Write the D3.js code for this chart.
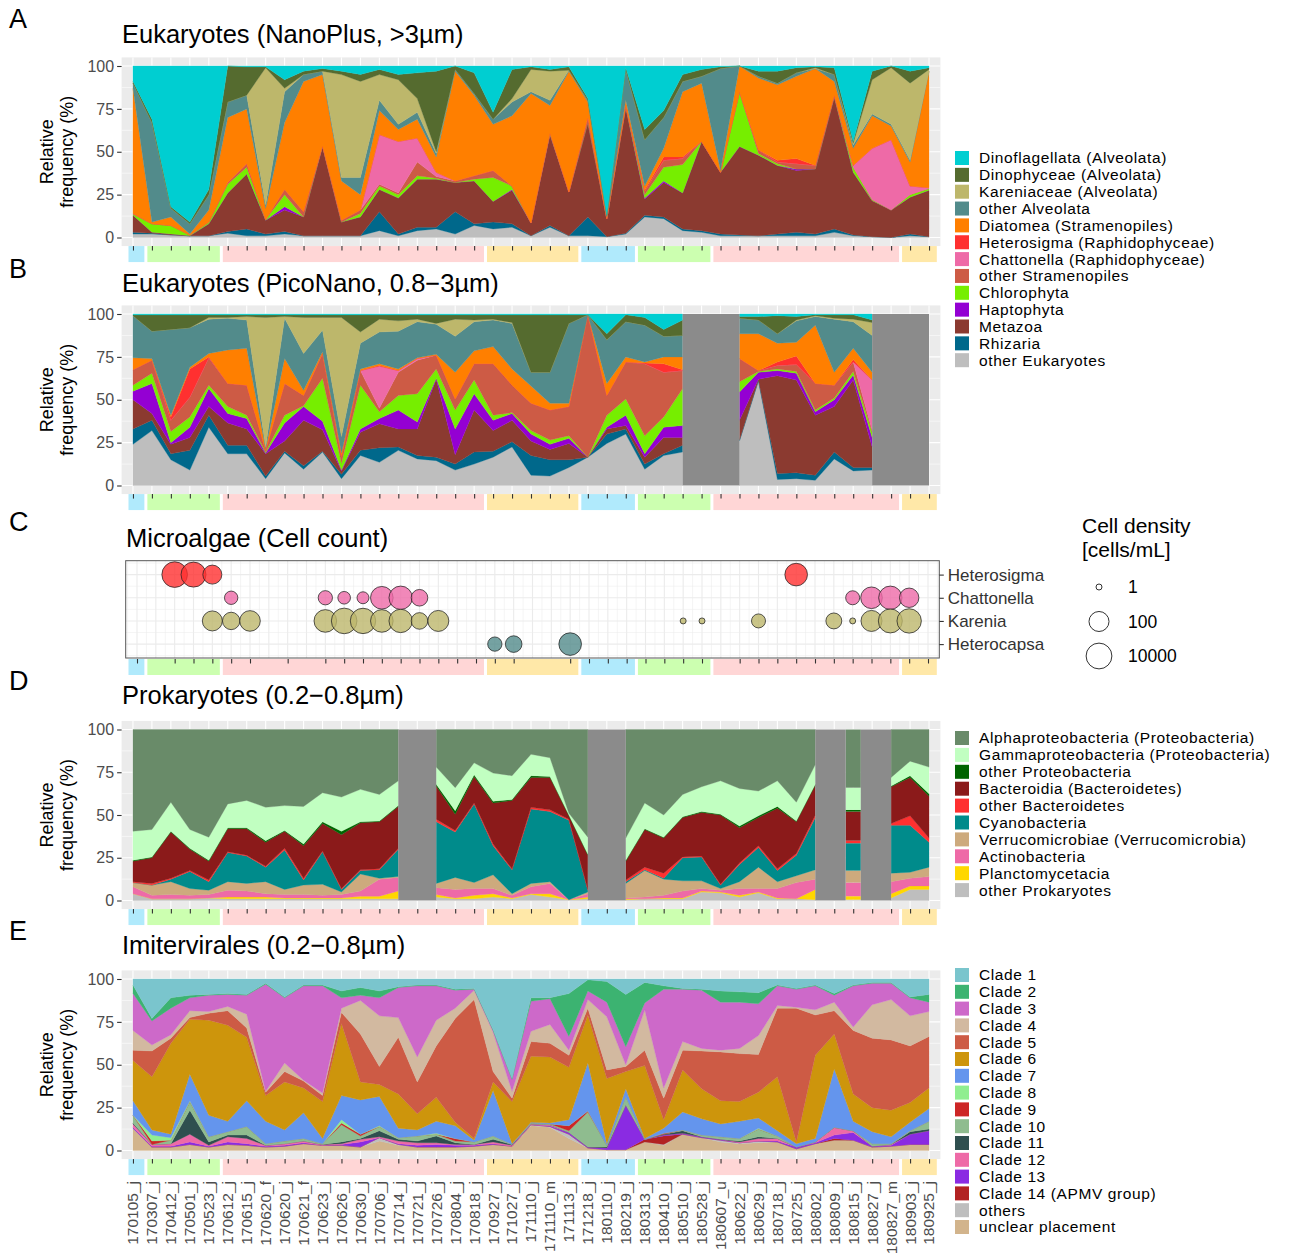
<!DOCTYPE html>
<html>
<head>
<meta charset="utf-8">
<script src="https://cdn.jsdelivr.net/npm/d3@7"></script>
<style>
  body { margin: 0; background: #fff; }
  text { font-family: "Liberation Sans", Arial, Helvetica, sans-serif; }
</style>
</head>
<body>
<svg id="chart" width="1311" height="1253"></svg>
<script>
// ---- samples and seasons ----
var samples = ["170105_j","170307_j","170412_j","170501_j","170523_j","170612_j","170615_j","170620_f","170620_j","170621_f",
  "170623_j","170626_j","170630_j","170706_j","170714_j","170721_j","170726_j","170804_j","170818_j","170927_j",
  "171027_j","171110_j","171110_m","171113_j","171218_j","180110_j","180219_j","180313_j","180410_j","180510_j",
  "180528_j","180607_u","180622_j","180629_j","180718_j","180725_j","180802_j","180809_j","180815_j","180827_j",
  "180827_m","180903_j","180925_j"];
var seasons = ["winter","spring","spring","spring","spring",
  "summer","summer","summer","summer","summer","summer","summer","summer","summer","summer","summer","summer","summer","summer",
  "autumn","autumn","autumn","autumn","autumn",
  "winter","winter","winter",
  "spring","spring","spring","spring",
  "summer","summer","summer","summer","summer","summer","summer","summer","summer","summer",
  "autumn","autumn"];

// ---- A: Eukaryotes NanoPlus (>3um), legend order (top of stack first) ----
var eukTaxa = ["Dinoflagellata (Alveolata)","Dinophyceae (Alveolata)","Kareniaceae (Alveolata)","other Alveolata",
  "Diatomea (Stramenopiles)","Heterosigma (Raphidophyceae)","Chattonella (Raphidophyceae)","other Stramenopiles",
  "Chlorophyta","Haptophyta","Metazoa","Rhizaria","other Eukaryotes"];
var nano_dinoflagellata = [9,31,82,91,72, 0,0.5,0.5,8,3, 1.5,3,5,2,5, 4,3,0,4,27, 2,0.5,2,0.5,19, 87,1,37,26,5, 2,0.5,0,3,3, 1,0.5,1,44,3, 0,3,1];
var nano_dinophyceae = [1,2,1,1,3, 21,16.5,0.5,5,2, 1.5,2,4,3,3, 15,47,2,12,4, 17,1.5,1,2,1, 0,1,6,4,4, 4,1,0,3,7, 3,0.5,4,1,5, 1,7,1];
var nano_kareniaceae = [0,0,0,0,0, 0,0,80,2,0, 0,60,56,15,26, 8,1,0,0,0, 2,13,17,0,0, 0,0,0,0,0, 0,0,0,0,0, 0,0.5,0,1,20, 33,45,1];
var nano_otherAlveolata = [3,58,5,6,9, 9,8,2,18,4, 2,2,10,6,3, 4,2,1,1,3, 8,1,3,0.5,1, 1,18,27,18,6, 4,59.5,0,1,1, 2,0,4,2,1, 1,1,0];
var nano_diatomea = [73,1,5,0.5,7, 38,32,6.5,39,76, 41.5,23,9,14,7, 11,9,64,47,27, 41,75.5,16,70.5,9, 1,3,2.5,5,38, 34,1,15,42,44, 48,56.5,8,10,19, 8,14,68];
var nano_heterosigma = [0,0,0,0,0, 0,0,0,0,0, 0,0,0,0,0, 0,0,0,0,0, 0,0,0,0,0, 0,0,0.5,2,1, 0,0,0,0,1, 3,0,0,0,0, 0,0,0];
var nano_chattonella = [0,0,0,0,0, 0,0,0,0,0, 0,0,0,29,30, 14,2.5,0,0,0, 0,0,0,0,0, 0,0,0,0,0, 0,0,0,0,0, 0,0,0,1,30, 41,5,0.5];
var nano_otherStramenopiles = [0.5,0,0,0,0, 1,2,0,3,3, 0,1,2,1,1, 8,1,1,2,4, 0,0,0,0,3, 0,1,2,4,3.5, 0,0,0,2,1, 3,2,1,0,0, 0,0,0];
var nano_chlorophyta = [0.5,5,5,0.5,1, 5,4,0.5,7,0, 0.5,0,2,2,2, 2,0.5,0,1,14, 2,0,1,0,0, 0,0,2,8,16.5, 0,0,32,1,1, 0,0,0,3,0.5, 0,1.5,1];
var nano_haptophyta = [0,0,0,0,0, 0,0,0,2,0, 0,0,0,0,0, 0,0,0,0,0, 0.5,0,0,0,0, 0,0,0.5,1,0, 0,0,0,0,0, 1,0,0,0,0, 0,0,0];
var nano_metazoa = [10,0.5,0.5,0,7, 22.5,32,8,12.5,11, 52,8,11,13,21, 28,28,17,25,12, 19.5,7.5,53,25.5,55, 10.5,73.5,9.5,20,21, 52,36,51.5,47,40, 36,38,77,36.5,21, 16,21.5,27];
var nano_rhizaria = [1,0.5,0,0,0, 1,4,1,1.5,0, 0,0,0,11,1, 2,1,13,1,4, 2,0,1,0,11, 0,0.5,1,1,1, 1,1,0.5,0,1, 2,1,2,0.5,0, 0,1,0];
var nano_otherEukaryotes = [2,2,1.5,1,1, 2.5,1,1,2,1, 1,1,1,4,1, 4,5,2,7,5, 6,1,6,1,1, 0.5,2,12,11,4, 3,1,1,1,1, 1,1,3,1,0.5, 0,1,0.5];

// ---- B: Eukaryotes PicoNano (0.8-3um), null = not sequenced ----
var pico_dinoflagellata = [0.5,0.5,0.5,0.5,0.5, 0.5,0.5,0.5,0.5,0.5, 0.5,0.5,0.5,0.5,0.5, 0.5,0.5,0.5,0.5,0.5, 0.5,0.5,0.5,0.5,0.5, 11.5,0.5,2,9,3.5, null,null,1.5,1.5,1, 1.5,0.5,0.5,0.5,3.5, null,null,null];
var pico_dinophyceae = [0.5,9.5,8.5,7.5,1.5, 1.5,1,1.5,1,1.5, 1.5,1.5,10,2.5,3.5, 2.5,5,2.5,3,2.5, 4.5,33.5,33.5,5,0, 3.5,4,4.5,4,9, null,null,1,2,10.5, 2,0.5,2,2.5,1.5, null,null,null];
var pico_kareniaceae = [0,0,0,0,1, 0.5,2,75.5,1,21, 7.5,69.5,6.5,7.5,6, 1.5,0.5,10,1,0.5, 0.5,0,0,0,0, 0,0,0,0,0, null,null,0,0,0, 0.5,0.5,0.5,1.5,7.5, null,null,null];
var pico_otherAlveolata = [24.5,16,50,23,20, 18.5,16.5,1,23.5,21.5, 12.5,9.5,15,18.5,22, 21,17.5,21,17,15.5, 26.5,8,18,46.5,0, 25.5,20.5,21.5,12,12.5, null,null,9,8,5.5, 12.5,5,31,15.5,21.5, null,null,null];
var pico_diatomea = [7,1,1,1,2, 19.5,21.5,1,14.5,3, 1,2,1,1,1, 0.5,0.5,15.5,7.5,10, 9.5,10,4,2,0, 7,3,0.5,4,7.5, null,null,14.5,21.5,11, 8,34,7.5,6.5,4.5, null,null,null];
var pico_heterosigma = [0,0,2,16.5,0.5, 0,0,0,0,0, 0,0,0,0.5,0, 0,0,0,0,0, 0,0,0,0,0, 0,0,0.5,5,0.5, null,null,0,0,2, 5,0,0,1.5,0, null,null,null];
var pico_chattonella = [0,0,0,0,0, 0,0,0,0,0, 0,0,0,24.5,1, 1,0,0,0,0, 0,0,0,0,0, 0,0,0,0,0, null,null,0,0,0, 0,0,0,0,29.5, null,null,null];
var pico_otherStramenopiles = [9,7.5,6.5,11.5,16, 13.5,17.5,1,18.5,6, 14.5,4,8.5,2,13.5, 19.5,8,6.5,9.5,30, 16,16,17.5,17,83, 11.5,21.5,42,26,10.5, null,null,13.5,0.5,2, 4,15.5,7.5,5.5,1, null,null,null];
var pico_chlorophyta = [3.5,6,6.5,6,2, 4,2,0.5,4.5,0.5, 25,4,25.5,4,8.5, 16.5,5.5,11,8,3, 0.5,2,2.5,1.5,0, 7,9.5,10.5,6,21.5, null,null,6,0.5,1, 1,1,1,2,3, null,null,null];
var pico_haptophyta = [5,17.5,1,6,10.5, 5.5,6,0.5,10.5,8, 5,0.5,2,3,11, 4,0.5,15,9.5,6, 4,4,3,3,0, 1,6,2,6,7, null,null,16.5,4,3, 4,2,4,3,5.5, null,null,null];
var pico_metazoa = [17,4,5.5,7.5,5, 13,9.5,13,6,26.5, 12.5,2,10.5,14,10.5, 15.5,45.5,5.5,24.5,12, 12.5,8.5,6,9.5,0, 3,2,4,9.5,4.5, null,null,11.5,0.5,57, 54,35,26.5,51,12, null,null,null];
var pico_rhizaria = [9,6,3.5,11.5,7, 5,5,1.5,1,2, 0.5,2.5,3,8.5,2, 2,2,3.5,7,3.5, 3,11.5,9.5,4.5,0, 5.5,3,3,1,4, null,null,0.5,0.5,3.5, 3.5,3,4,2,1.5, null,null,null];
var pico_otherEukaryotes = [24,32,15,9,34, 18.5,18.5,4,19,9.5, 19.5,4,17.5,13.5,20.5, 15.5,14.5,9,12.5,16.5, 22.5,6,5.5,10.5,16.5, 24.5,30,9.5,17.5,19.5, null,null,26,61,3.5, 4,3,15.5,8.5,9, null,null,null];

// ---- C: Microalgae cell counts (cells/mL), null = not counted ----
var algaeTaxa = ["Heterosigma","Chattonella","Karenia","Heterocapsa"];
var count_heterosigma = [0,null,8300,4800,53, 0,0,null,0,null, 0,0,0,0,0, 0,0,0,0,0, 0,null,null,0,0, 0,0,0,0,0, 0,null,0,0,0, 650,0,0,0,0, 0,0,0];
var count_chattonella = [0,null,0,0,0, 3.6,0,null,0,null, 5,2.8,2.3,650,1200, 14,0,0,0,0, 0,null,null,0,0, 0,0,0,0,0, 0,null,0,0,0, 0,0,0,4.5,300, 1200,68,0];
var count_karenia = [0,null,0,0,100, 21,150,null,0,null, 650,8300,6900,650,1200, 14,200,0,0,0, 0,null,null,0,0, 0,0,0,0,1, 1,null,0,4.5,0, 0,0,10,1,200, 2000,2800,0];
var count_heterocapsa = [0,null,0,0,0, 0,0,null,0,null, 0,0,0,0,0, 0,0,0,0,5, 14,null,null,650,0, 0,0,0,0,0, 0,null,0,0,0, 0,0,0,0,0, 0,0,0];
var densityLegend = [1, 100, 10000];

// ---- D: Prokaryotes (0.2-0.8um) ----
var proTaxa = ["Alphaproteobacteria (Proteobacteria)","Gammaproteobacteria (Proteobacteria)","other Proteobacteria",
  "Bacteroidia (Bacteroidetes)","other Bacteroidetes","Cyanobacteria","Verrucomicrobiae (Verrucomicrobia)",
  "Actinobacteria","Planctomycetacia","other Prokaryotes"];
var pro_alpha = [59.5,58.5,42.5,58.5,63, 43.5,41.5,45.5,44.5,45, 37,39.5,35,38,30, null,22,34,19.5,25.5, 27,14.5,16.5,49,63, null,63.5,43,50,38, 33.5,30,34.5,36,30, 42.5,20.5,null,34,null, 28,18.5,22];
var pro_gamma = [17,16,17,11,13.5, 14,16,19.5,14.5,22, 17,20,19,15.5,14.5, null,10,13.5,7,16.5, 14,12.5,11,1,10, null,13,15,13,13, 14.5,19.5,22,14.5,15, 11,11.5,null,13,null, 5,8.5,15.5];
var pro_otherProteo = [0.5,0.5,0.5,0.5,0.5, 0.5,0.5,1,0.5,1, 1,2,0.5,0.5,0.5, null,1,2,1,1, 0.5,1,0.5,0.5,0.5, null,0.5,0.5,0.5,0.5, 0.5,0.5,1,1,1, 0.5,0.5,null,1,null, 0.5,1,1.5];
var pro_bacteroidia = [12,15,27,12.5,11, 13.5,15.5,14,10,19, 16,31.5,27.5,27.5,24.5, null,19.5,9.5,15.5,24, 40,17.5,19,2,20, null,11,22,20.5,23, 25.5,40.5,20.5,16.5,35.5, 18.5,17.5,null,17,null, 21.5,22.5,24.5];
var pro_otherBacteroidetes = [0.5,1,0.5,0.5,1, 0.5,0.5,0.5,1,1, 0.5,0.5,0.5,0.5,0.5, null,1.5,1,0.5,1, 0.5,1,1,0.5,0.5, null,1,1.5,3,0.5, 0.5,0.5,1,1,1, 1,1.5,null,1.5,null, 1,5.5,2.5];
var pro_cyano = [0,0,1.5,10,5, 17,16,8.5,23,3, 19,1.5,2,5,16, null,36,26.5,46,17, 14,43.5,41,46.5,1, null,1,0.5,0.5,13.5, 14,2,10,11.5,6.5, 12,30.5,null,16,null, 28,27.5,14.5];
var pro_verruco = [2.5,6,7.5,4,2.5, 5,4.5,7,3,5.5, 6.5,1.5,10,0.5,0.5, null,2.5,7,3.5,8, 1,2,1,0,1, null,8.5,15.5,9.5,6, 4.5,1,4,12.5,4, 4,5.5,null,7,null, 5,3.5,5.5];
var pro_actino = [4,2,2.5,2,2, 4,3.5,2,2,2, 1.5,2,3,10,8, null,4,5,4,3, 1.5,4,6,0,2, null,0.5,1,1.5,4, 1.5,1,4,2,5.5, 9.5,6,null,8,null, 7,4.5,5.5];
var pro_plancto = [0,0,0,0,0, 1,1,1,0.5,0.5, 0.5,0.5,1.5,1.5,4.5, null,1.5,0.5,2,2, 0.5,0.5,2,0,1, null,0.5,0,0.5,0.5, 0.5,0.5,1,0.5,0.5, 0,6,null,2,null, 2.5,2,2];
var pro_other = [4,1,1,1,1.5, 1,1,1,1,1, 1,1,1,1,1, null,2,1,1,2, 1,3.5,2,0.5,1, null,0.5,1,1,1, 5,4.5,2,4.5,1, 1,0.5,null,0.5,null, 1.5,6.5,6.5];

// ---- E: Imitervirales (0.2-0.8um) ----
var virTaxa = ["Clade 1","Clade 2","Clade 3","Clade 4","Clade 5","Clade 6","Clade 7","Clade 8","Clade 9","Clade 10",
  "Clade 11","Clade 12","Clade 13","Clade 14 (APMV group)","others","unclear placement"];
var vir_c1 = [3.5,23,11,9.5,9, 8.5,9,2.5,10.5,3.5, 3.5,7,5,7,4.5, 3.5,3.5,6,5.5,29.5, 58,11,11,8.5,0.5, 1.5,9,2,4,5.5, 6,7,7.5,8,3.5, 5.5,3.5,8.5,3.5,2, 2,10.5,9];
var vir_c2 = [5,1.5,6,1.5,0.5, 0.5,0.5,0.5,0.5,0.5, 0.5,4,4.5,4,0.5, 0.5,0.5,0.5,0.5,0.5, 0.5,2,0.5,25,6.5, 12,30.5,12,2,0.5, 0.5,6.5,6,6.5,0.5, 0.5,0.5,1,0.5,0.5, 0.5,0.5,4.5];
var vir_c3 = [21.5,14,15.5,7.5,9.5, 7,11,62.5,38,55, 62.5,6,3,10.5,17.5, 41.5,20,10.5,0.5,1, 7,17.5,15,8,5, 8.5,10.5,4,57.5,30.5, 34,28,27,18.5,11.5, 10.5,14,4,24,12.5, 9.5,10.5,5.5];
var vir_c4 = [11.5,3.5,2,4,1, 2.5,8,0.5,5,0.5, 1.5,2.5,19.5,29.5,11.5, 14.5,15,6,5.5,23, 4,6,11,3,5, 31,1,23.5,6,5, 1.5,1,3,11,1.5, 0.5,3,5,2,19.5, 23.5,17.5,14.5];
var vir_c5 = [6,15,3,1,4, 8.5,5.5,2,6,4, 3.5,6.5,28,10.5,33, 18.5,30,60.5,81,6, 2,8.5,8,7,4, 5,3,9,12.5,11.5, 22,28.5,28,22,40, 78,23.5,13.5,37,40.5, 41,33,30];
var vir_c6 = [23.5,31,53,32,55.5, 56,37,15,28,14.5, 21.5,42,10.5,7,20, 9.5,14,2,1,5, 24.5,38.5,38.5,30.5,28, 38,10,42.5,5,24.5, 17.5,13.5,11.5,15,31.5, 1,48.5,20.5,16,14, 15.5,11.5,12];
var vir_c7 = [8.5,3,2,15.5,12.5, 6,15,13,6.5,15, 3,14,20,17,5.5, 3.5,7,7.5,1,26.5, 0.5,0.5,0.5,3.5,28, 1,4.5,0.5,3,10.5, 9.5,7.5,10,6,3, 2,2,34,5.5,7, 4,5,7.5];
var vir_c8 = [0,3.5,1.5,0.5,0, 0,0,0,0,0, 0,2,0,0.5,0, 0,0.5,0,0,0, 0,0,0,0,0, 0,0,0,0,0, 0,0,0,0.5,0, 0,0,0,0,0, 0,0,0];
var vir_c9 = [0,2,0,0,0, 0,0,0,0,0, 0,1,1,0,0, 0,0,1.5,0,0, 0,0,0,3,0.5, 0,0,0,0.5,0, 0,0,0,0,0, 0,0,0,0,0, 0,0,0];
var vir_c10 = [4.5,0,2,5,3, 2,5,1,1.5,1.5, 0.5,10,1.5,2.5,1, 3,1,1,1.5,2, 0,0.5,0.5,1,20.5, 1,5,0,0,0.5, 1,1.5,1.5,4.5,1.5, 0,0,0,0,1.5, 0.5,0.5,4.5];
var vir_c11 = [0.5,0,0,14,2, 1,2,0,0,0, 0,1,0.5,3.5,1, 1,4,1,0,1.5, 0.5,0,0,0,0, 0.5,0,0,0.5,1.5, 0,0,0.5,1,0, 0,0,0,0,0, 0,1.5,1];
var vir_c12 = [2,1,1.5,4.5,0.5, 3,3,0.5,1,1, 0.5,0.5,1.5,0.5,1.5, 1.5,1,0.5,0.5,1, 0.5,0.5,0.5,0,0, 0,0,0,0,0, 0,0,0.5,1.5,1.5, 0,0.5,4.5,1,0, 0.5,0,0];
var vir_c13 = [0.5,0.5,0.5,1.5,0.5, 1.5,1,0.5,0.5,0.5, 0,0.5,3,0,0.5, 1,1.5,1,0.5,0.5, 0,0,0.5,1,0.5, 1,26,0,0.5,0.5, 0.5,0.5,0,0,0.5, 1,0.5,2,4.5,0.5, 0.5,6,8];
var vir_c14 = [0,0,0,0,0, 0,0,0,0,0, 0,0,0,0,0, 0,0,0,0,0, 0,0,0,0,0, 0,0,1.5,5,0, 0,0,0,0,0, 0,0,1,0,0, 0,0,0];
var vir_others = [0.5,0,0,0,0, 0,0,0,0,0, 0,0,0,2,0.5, 0,0,0,0,0, 0,0.5,0.5,2.5,0, 0,0,0,0.5,0, 0,1,0.5,1,0, 0,0,0,0,0, 0,0,0];
var vir_unclear = [12.5,2,2,3.5,2, 3.5,3,2,2.5,4, 3,3,2,5.5,3, 2,2,2,2.5,3.5, 2.5,14.5,13.5,7,1.5, 0.5,0.5,5,3,9.5, 7.5,5,4,4.5,5, 1,4,6,6,2, 2.5,3.5,3.5];

// ---- colours ----
var seasonColor = { winter: "#B0EAFC", spring: "#CCFFB0", summer: "#FFD6D6", autumn: "#FFE8A8" };
var eukColors = ["#00CED1","#556B2F","#BDB76B","#528B8B","#FF7F00","#FF3030","#EE6AA7","#CD5B45","#76EE00","#9400D3","#8B3A30","#00688B","#BEBEBE"];
var proColors = ["#698B69","#C1FFC1","#006400","#8B1A1A","#FF3030","#008B8B","#CDAA7D","#EE6AA7","#FFD700","#BEBEBE"];
var virColors = ["#7AC5CD","#3CB371","#CD69C9","#D2B9A0","#CD5B45","#CD950C","#6495ED","#90EE90","#CD2626","#8FBC8F","#2F4F4F","#EE6AA7","#8A2BE2","#B22222","#BEBEBE","#D2B48C"];
var algaeColors = ["#FF3030","#EE6AA7","#BDB76B","#528B8B"];

var svg = d3.select("#chart");
var n = samples.length;

// x scales: index -> pixel (discrete axis with 0.6 expansion)
var x = d3.scaleLinear().domain([-0.6, n - 1 + 0.6]).range([121.6, 940.4]);
var xC = d3.scaleLinear().domain([-0.6, n - 1 + 0.6]).range([125.7, 939.3]);
var xStrip = d3.scaleLinear().domain([-0.5, n - 0.5]).range([127, 938.3]);

function drawStrip(y0, xs, tickIdx) {
    var runs = [], s = 0;
    for (var i = 1; i <= n; i++) {
        if (i === n || seasons[i] !== seasons[s]) { runs.push([s, i - 1]); s = i; }
    }
    runs.forEach(function(r) {
        svg.append("rect")
            .attr("x", xStrip(r[0] - 0.5) + 1.5)
            .attr("y", y0)
            .attr("width", xStrip(r[1] + 0.5) - xStrip(r[0] - 0.5) - 3)
            .attr("height", 16)
            .style("fill", seasonColor[seasons[r[0]]]);
    });
    var ax = svg.append("g")
        .attr("transform", "translate(0," + y0 + ")")
        .call(d3.axisBottom(xs).tickValues(tickIdx).tickSize(4.5).tickFormat(""));
    ax.select(".domain").remove();
    ax.selectAll("line").style("stroke", "#333").style("stroke-width", 1.1);
}

function drawAxisTitle(cy) {
    var t = svg.append("text")
        .attr("transform", "translate(53," + cy + ") rotate(-90)")
        .attr("text-anchor", "middle")
        .style("font-size", "18px")
        .style("fill", "#000");
    t.append("tspan").attr("x", 0).attr("dy", 0).text("Relative");
    t.append("tspan").attr("x", 0).attr("dy", 19.5).text("frequency (%)");
}

function drawLabels(letter, letterY, title, titleX, titleY) {
    svg.append("text").attr("x", 9).attr("y", letterY).style("font-size", "27px").text(letter);
    svg.append("text").attr("x", titleX).attr("y", titleY).style("font-size", "25.5px").text(title);
}

function drawAreaPanel(p) {
    var y = d3.scaleLinear().domain([0, 1]).range([p.bottom, p.top]);
    var pad = (p.bottom - p.top) * 0.05;
    var g = svg.append("g");

    g.append("rect")
        .attr("x", x.range()[0]).attr("y", p.top - pad)
        .attr("width", x.range()[1] - x.range()[0])
        .attr("height", p.bottom - p.top + 2 * pad)
        .style("fill", "#EBEBEB");

    [0.125, 0.375, 0.625, 0.875].forEach(function(v) {
        g.append("line").attr("x1", x.range()[0]).attr("x2", x.range()[1])
            .attr("y1", y(v)).attr("y2", y(v))
            .style("stroke", "#fff").style("stroke-width", 0.55);
    });
    [0, 0.25, 0.5, 0.75, 1].forEach(function(v) {
        g.append("line").attr("x1", x.range()[0]).attr("x2", x.range()[1])
            .attr("y1", y(v)).attr("y2", y(v))
            .style("stroke", "#fff").style("stroke-width", 1.1);
    });
    d3.range(n).forEach(function(i) {
        g.append("line").attr("x1", x(i)).attr("x2", x(i))
            .attr("y1", p.top - pad).attr("y2", p.bottom + pad)
            .style("stroke", "#fff").style("stroke-width", 1.1);
    });

    // stack: bottom layer = last legend entry
    var keys = d3.range(p.values.length).reverse();
    var rows = d3.range(n).map(function(i) {
        var r = {};
        keys.forEach(function(k) { r[k] = p.values[k][i] == null ? 0 : p.values[k][i]; });
        return r;
    });
    var present = d3.range(n).map(function(i) { return p.values[0][i] != null; });
    var isolated = present.map(function(ok, i) {
        return ok && (i === 0 || !present[i - 1]) && (i === n - 1 || !present[i + 1]);
    });
    var stacked = d3.stack().keys(keys).offset(d3.stackOffsetExpand)(rows);

    var area = d3.area()
        .defined(function(d, i) { return present[i] && !isolated[i]; })
        .x(function(d, i) { return x(i); })
        .y0(function(d) { return y(d[0]); })
        .y1(function(d) { return y(d[1]); });

    stacked.forEach(function(layer) {
        var col = p.colors[layer.key];
        g.append("path")
            .datum(layer)
            .attr("d", area)
            .style("fill", col)
            .style("stroke", col)
            .style("stroke-width", 0.3);
        // an isolated sample is shown as a narrow block
        layer.forEach(function(d, i) {
            if (!isolated[i]) return;
            g.append("rect")
                .attr("x", x(i - 0.4)).attr("width", x(i + 0.4) - x(i - 0.4))
                .attr("y", y(d[1])).attr("height", y(d[0]) - y(d[1]))
                .style("fill", col);
        });
    });

    // grey blocks over samples that were not sequenced
    var i = 0;
    while (i < n) {
        if (present[i]) { i++; continue; }
        var a = i;
        while (i < n && !present[i]) i++;
        var b = i - 1;
        var left = a - 1, right = Math.min(b + 1, n - 1);
        if (left >= 0 && isolated[left]) left += 0.4;
        if (b + 1 < n && isolated[b + 1]) right -= 0.4;
        g.append("rect")
            .attr("x", x(left)).attr("width", x(right) - x(left))
            .attr("y", y(1)).attr("height", y(0) - y(1))
            .style("fill", "#8B8B8B");
    }

    var yAxis = g.append("g")
        .attr("transform", "translate(" + x.range()[0] + ",0)")
        .call(d3.axisLeft(y).tickValues([0, 0.25, 0.5, 0.75, 1])
            .tickFormat(function(v) { return Math.round(v * 100); })
            .tickSize(4.5).tickPadding(3));
    yAxis.select(".domain").remove();
    yAxis.selectAll("line").style("stroke", "#333").style("stroke-width", 1.1);
    yAxis.selectAll("text").style("font-size", "16px").style("fill", "#4D4D4D")
        .style("font-family", "'Liberation Sans', Arial, sans-serif");

    drawAxisTitle((p.top + p.bottom) / 2);
    drawStrip(p.bottom + pad, x, d3.range(n));
}

function drawLegend(names, colors, x0, yFirst, step) {
    names.forEach(function(name, k) {
        var cy = yFirst + k * step;
        svg.append("rect").attr("x", x0).attr("y", cy - 7).attr("width", 14).attr("height", 14)
            .style("fill", colors[k]);
        svg.append("text").attr("x", x0 + 24).attr("y", cy).attr("dy", "0.35em")
            .style("font-size", "15.5px").style("letter-spacing", "0.6px").text(name);
    });
}

// ---- panel A ----
drawLabels("A", 28, "Eukaryotes (NanoPlus, >3\u00b5m)", 122, 43);
drawAreaPanel({
    top: 66, bottom: 237.5, colors: eukColors,
    values: [nano_dinoflagellata, nano_dinophyceae, nano_kareniaceae, nano_otherAlveolata, nano_diatomea,
        nano_heterosigma, nano_chattonella, nano_otherStramenopiles, nano_chlorophyta, nano_haptophyta,
        nano_metazoa, nano_rhizaria, nano_otherEukaryotes]
});

// ---- panel B ----
drawLabels("B", 278, "Eukaryotes (PicoNano, 0.8\u22123\u00b5m)", 122, 292);
drawAreaPanel({
    top: 314, bottom: 485.5, colors: eukColors,
    values: [pico_dinoflagellata, pico_dinophyceae, pico_kareniaceae, pico_otherAlveolata, pico_diatomea,
        pico_heterosigma, pico_chattonella, pico_otherStramenopiles, pico_chlorophyta, pico_haptophyta,
        pico_metazoa, pico_rhizaria, pico_otherEukaryotes]
});
drawLegend(eukTaxa, eukColors, 955, 158, 16.85);

// ---- panel C ----
drawLabels("C", 531, "Microalgae (Cell count)", 126, 547);
(function() {
    var counts = [count_heterosigma, count_chattonella, count_karenia, count_heterocapsa];
    var yC = d3.scaleLinear().domain([-0.6, 3.6]).range([560.7, 658]);
    var rScale = d3.scaleSqrt().domain([0, 4]).range([3, 12.9]);
    var g = svg.append("g");
    g.append("rect").attr("x", 125.7).attr("y", 560.7).attr("width", 939.3 - 125.7).attr("height", 658 - 560.7)
        .style("fill", "#fff");
    d3.range(-0.5, n, 0.5).forEach(function(v) {
        g.append("line").attr("x1", xC(v)).attr("x2", xC(v)).attr("y1", 560.7).attr("y2", 658)
            .style("stroke", "#EBEBEB").style("stroke-width", Number.isInteger(v) ? 1.1 : 0.55);
    });
    d3.range(-0.5, 4, 0.5).forEach(function(v) {
        g.append("line").attr("x1", 125.7).attr("x2", 939.3).attr("y1", yC(v)).attr("y2", yC(v))
            .style("stroke", "#EBEBEB").style("stroke-width", Number.isInteger(v) ? 1.1 : 0.55);
    });
    counts.forEach(function(arr, k) {
        arr.forEach(function(v, i) {
            if (v == null || v <= 0) return;
            g.append("circle").attr("cx", xC(i)).attr("cy", yC(k))
                .attr("r", rScale(Math.log10(v)))
                .style("fill", algaeColors[k]).style("fill-opacity", 0.8)
                .style("stroke", "#222").style("stroke-opacity", 0.75).style("stroke-width", 1);
        });
    });
    g.append("rect").attr("x", 125.7).attr("y", 560.7).attr("width", 939.3 - 125.7).attr("height", 658 - 560.7)
        .style("fill", "none").style("stroke", "#555").style("stroke-width", 1);

    var yAx = g.append("g").attr("transform", "translate(939.3,0)")
        .call(d3.axisRight(yC).tickValues([0, 1, 2, 3]).tickFormat(function(k) { return algaeTaxa[k]; })
            .tickSize(4.5).tickPadding(4));
    yAx.select(".domain").remove();
    yAx.selectAll("line").style("stroke", "#333").style("stroke-width", 1.1);
    yAx.selectAll("text").style("font-size", "17px").style("fill", "#333")
        .style("font-family", "'Liberation Sans', Arial, sans-serif");

    var counted = d3.range(n).filter(function(i) { return count_karenia[i] != null; });
    drawStrip(659, xC, counted);

    // size legend
    svg.append("text").attr("x", 1082).attr("y", 533).style("font-size", "21px").text("Cell density");
    svg.append("text").attr("x", 1082).attr("y", 557).style("font-size", "21px").text("[cells/mL]");
    densityLegend.forEach(function(v, k) {
        var cy = 587 + k * 34.5;
        svg.append("circle").attr("cx", 1099).attr("cy", cy).attr("r", rScale(Math.log10(v)))
            .style("fill", "#fff").style("stroke", "#333").style("stroke-width", 1);
        svg.append("text").attr("x", 1128).attr("y", cy).attr("dy", "0.35em")
            .style("font-size", "17.5px").text(String(v));
    });
})();

// ---- panel D ----
drawLabels("D", 690, "Prokaryotes (0.2\u22120.8\u00b5m)", 122, 704);
drawAreaPanel({
    top: 729.5, bottom: 900.5, colors: proColors,
    values: [pro_alpha, pro_gamma, pro_otherProteo, pro_bacteroidia, pro_otherBacteroidetes, pro_cyano,
        pro_verruco, pro_actino, pro_plancto, pro_other]
});
drawLegend(proTaxa, proColors, 955, 738, 16.9);

// ---- panel E ----
drawLabels("E", 940, "Imitervirales (0.2\u22120.8\u00b5m)", 122, 954);
drawAreaPanel({
    top: 979, bottom: 1150.5, colors: virColors,
    values: [vir_c1, vir_c2, vir_c3, vir_c4, vir_c5, vir_c6, vir_c7, vir_c8, vir_c9, vir_c10,
        vir_c11, vir_c12, vir_c13, vir_c14, vir_others, vir_unclear]
});
drawLegend(virTaxa, virColors, 955, 975, 16.8);

// sample labels under the last panel
samples.forEach(function(s, i) {
    svg.append("text")
        .attr("transform", "translate(" + x(i) + ",1181) rotate(-90)")
        .attr("text-anchor", "end")
        .attr("dy", "0.35em")
        .style("font-size", "15.5px")
        .style("fill", "#4D4D4D")
        .text(s);
});
</script>
</body>
</html>
